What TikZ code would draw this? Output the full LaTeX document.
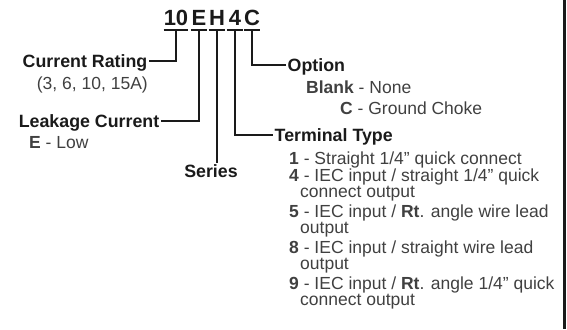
\documentclass[tikz,border=0pt]{standalone}
\usepackage{fontspec}
\setmainfont{Liberation Sans}
\usetikzlibrary{positioning}
\definecolor{ink}{HTML}{1A1A1A}
\definecolor{body}{HTML}{404040}

\begin{document}
\begin{tikzpicture}[x=1pt, y=-1pt,
    code/.style={font=\fontsize{22}{22}\selectfont\bfseries, text=ink,
      inner xsep=0pt, inner ysep=4pt, text height=16pt, text depth=0pt,
      minimum width=16pt, anchor=south},
    hd/.style={font=\fontsize{17.8}{18}\selectfont\bfseries, text=ink,
      inner sep=1.5pt, text height=12.5pt, text depth=0pt},
    txt/.style={font=\fontsize{17.5}{18}\selectfont, text=body,
      inner sep=0pt, text height=12.5pt, text depth=0pt, anchor=west},
    lead/.style={line width=1.4pt, draw=ink}]
  \useasboundingbox (0,0) rectangle (567,329);
  % part number
  \node[code, minimum width=23pt] (c10) at (176,30) {10};
  \node[code] (cE) at (199,30) {E};
  \node[code] (cH) at (217,30) {H};
  \node[code] (c4) at (235,30) {4};
  \node[code] (cC) at (252,30) {C};
  \foreach \c in {c10,cE,cH,c4,cC} \draw[lead] (\c.south west)--(\c.south east);
  % left side
  \node[hd, anchor=east] (rating) at (149,61) {Current Rating};
  \node[txt, anchor=east] (ratings) at (148,83) {(3, 6, 10, 15A)};
  \node[hd, anchor=east] (leak) at (161,121) {Leakage Current};
  \node[txt] (low) at (29,142) {\textbf{E} - Low};
  \node[hd, anchor=north] (series) at (211,163) {Series};
  % right side
  \node[hd, anchor=west] (option) at (286,65) {Option};
  \node[txt] (blank) at (306,87) {\textbf{Blank} - None};
  \node[txt] (choke) at (340,108) {\textbf{C} - Ground Choke};
  \node[hd, anchor=west] (term) at (273,135) {Terminal Type};
  \node[txt] (i1) at (289,158) {\textbf{1} - Straight 1/4" quick connect};
  \node[txt] (i4) at (289,175) {\textbf{4} - IEC input / straight 1/4" quick};
  \node[txt] (i4b) at (300,191) {connect output};
  \node[txt] (i5) at (289,211) {\textbf{5} - IEC input / \textbf{Rt}. angle wire lead};
  \node[txt] (i5b) at (300,227) {output};
  \node[txt] (i8) at (289,247) {\textbf{8} - IEC input / straight wire lead};
  \node[txt] (i8b) at (300,263) {output};
  \node[txt] (i9) at (289,283) {\textbf{9} - IEC input / \textbf{Rt}. angle 1/4" quick};
  \node[txt] (i9b) at (300,299) {connect output};
  % leaders
  \draw[lead] (c10.south) |- (rating.east);
  \draw[lead] (cE.south) |- (leak.east);
  \draw[lead] (cH.south) -- (cH.south |- series.north);
  \draw[lead] (c4.south) |- (term.west);
  \draw[lead] (cC.south) |- (option.west);
  % edge bar
  \fill[ink] (563,0) rectangle (566,329);
\end{tikzpicture}
\end{document}
